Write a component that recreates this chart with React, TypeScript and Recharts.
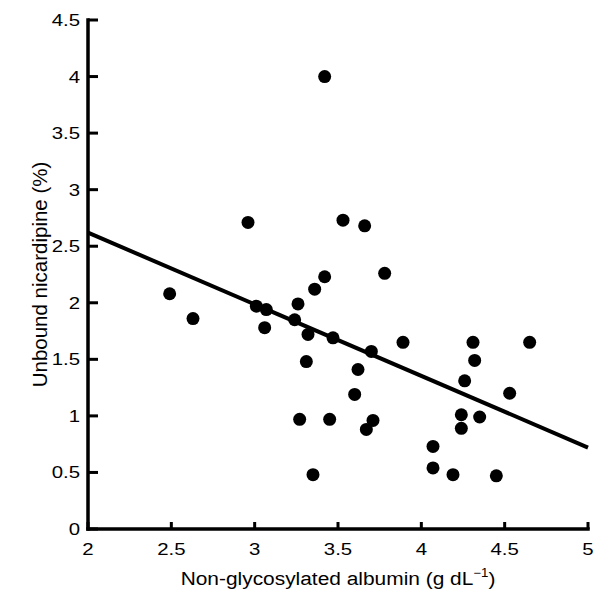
import React from 'react';
import { ScatterChart, Scatter, XAxis, YAxis, ReferenceLine } from 'recharts';

// albumin (g/dL) vs unbound nicardipine (%)
const albumin = [
  2.49, 2.63, 2.96, 3.01, 3.07, 3.06, 3.26, 3.24, 3.36, 3.42,
  3.42, 3.53, 3.66, 3.78, 3.32, 3.47, 3.7, 3.89, 3.31, 3.62,
  3.6, 3.27, 3.45, 3.71, 3.67, 3.35, 4.07, 4.07, 4.31, 4.65,
  4.32, 4.26, 4.53, 4.24, 4.35, 4.24, 4.19, 4.45,
];
const unbound = [
  2.08, 1.86, 2.71, 1.97, 1.94, 1.78, 1.99, 1.85, 2.12, 2.23,
  4.0, 2.73, 2.68, 2.26, 1.72, 1.69, 1.57, 1.65, 1.48, 1.41,
  1.19, 0.97, 0.97, 0.96, 0.88, 0.48, 0.73, 0.54, 1.65, 1.65,
  1.49, 1.31, 1.2, 1.01, 0.99, 0.89, 0.48, 0.47,
];

// regression line end points
const fitX = [2, 5];
const fitY = [2.62, 0.72];

const xTicks = [2, 2.5, 3, 3.5, 4, 4.5, 5];
const yTicks = [0, 0.5, 1, 1.5, 2, 2.5, 3, 3.5, 4, 4.5];

const X_MIN = 2;
const X_MAX = 5;
const Y_MIN = 0;
const Y_MAX = 4.5;

const points = albumin.map((x, i) => ({ x, y: unbound[i] }));

const FONT = '"Liberation Sans", Arial, Helvetica, sans-serif';

const YTick = (props: any) => {
  const { x, y, payload } = props;
  const px = Number(x);
  const py = Number(y);
  return (
    <g>
      <rect x={px} y={py - 1.5} width={10} height={3} fill="#000" />
      <text
        transform={`translate(${px - 8}, ${py + 6}) scale(1.2, 1)`}
        textAnchor="end"
        fontSize={17}
        fontFamily={FONT}
        fill="#000"
      >
        {payload.value}
      </text>
    </g>
  );
};

const XTick = (props: any) => {
  const { x, y, payload } = props;
  const px = Number(x);
  const py = Number(y);
  return (
    <g>
      <rect x={px - 1.5} y={py - 7} width={3} height={7} fill="#000" />
      <text
        transform={`translate(${px}, ${py + 26}) scale(1.2, 1)`}
        textAnchor="middle"
        fontSize={17}
        fontFamily={FONT}
        fill="#000"
      >
        {payload.value}
      </text>
    </g>
  );
};

const XTitle = (props: any) => {
  const { viewBox } = props;
  const cx = viewBox.x + viewBox.width / 2;
  return (
    <text
      transform={`translate(${cx}, ${viewBox.y + 56}) scale(1.1, 1)`}
      textAnchor="middle"
      fontSize={19}
      fontFamily={FONT}
      fill="#000"
    >
      Non-glycosylated albumin (g dL
      <tspan fontSize={12} dy={-8}>−1</tspan>
      <tspan dy={8}>)</tspan>
    </text>
  );
};

const YTitle = (props: any) => {
  const { viewBox } = props;
  const cy = viewBox.y + viewBox.height / 2;
  const cx = 32;
  return (
    <text
      x={cx}
      y={cy}
      transform={`rotate(-90, ${cx}, ${cy})`}
      textAnchor="middle"
      dy={7}
      fontSize={20.5}
      fontFamily={FONT}
      fill="#000"
    >
      Unbound nicardipine (%)
    </text>
  );
};

// axis line drawn as a filled bar so it keeps its weight
const AxisBar = (props: any) => {
  const { x1, y1, x2, y2 } = props;
  const vertical = Math.abs(x1 - x2) < 0.5;
  return vertical ? (
    <rect x={x1 - 1.75} y={Math.min(y1, y2) - 1.75} width={3.5} height={Math.abs(y2 - y1) + 3.5} fill="#000" />
  ) : (
    <rect x={Math.min(x1, x2) - 1.75} y={y1 - 1.75} width={Math.abs(x2 - x1) + 3.5} height={3.5} fill="#000" />
  );
};

export default function App() {
  return (
    <div style={{ position: 'absolute', left: 8, top: 8, width: 589, height: 587, background: '#fff' }}>
      <ScatterChart width={589} height={587} margin={{ top: 12, right: 9, bottom: 16, left: 20 }}>
        <XAxis
          type="number"
          dataKey="x"
          domain={[X_MIN, X_MAX]}
          ticks={xTicks}
          height={50}
          axisLine={false}
          tickLine={false}
          tickSize={0}
          tickMargin={0}
          tick={<XTick />}
          label={<XTitle />}
          allowDataOverflow
        />
        <YAxis
          type="number"
          dataKey="y"
          domain={[Y_MIN, Y_MAX]}
          ticks={yTicks}
          width={60}
          axisLine={false}
          tickLine={false}
          tickSize={0}
          tickMargin={0}
          tick={<YTick />}
          label={<YTitle />}
          allowDataOverflow
        />

        <ReferenceLine
          segment={[
            { x: X_MIN, y: Y_MIN },
            { x: X_MIN, y: Y_MAX },
          ]}
          ifOverflow="visible"
          shape={<AxisBar />}
        />
        <ReferenceLine
          segment={[
            { x: X_MIN, y: Y_MIN },
            { x: X_MAX, y: Y_MIN },
          ]}
          ifOverflow="visible"
          shape={<AxisBar />}
        />

        <ReferenceLine
          segment={[
            { x: fitX[0], y: fitY[0] },
            { x: fitX[1], y: fitY[1] },
          ]}
          stroke="#000"
          strokeWidth={4}
          ifOverflow="visible"
        />
        <Scatter
          data={points}
          fill="#000"
          isAnimationActive={false}
          shape={(p: any) => <circle cx={p.cx} cy={p.cy} r={6.5} fill="#000" />}
        />
      </ScatterChart>
    </div>
  );
}
